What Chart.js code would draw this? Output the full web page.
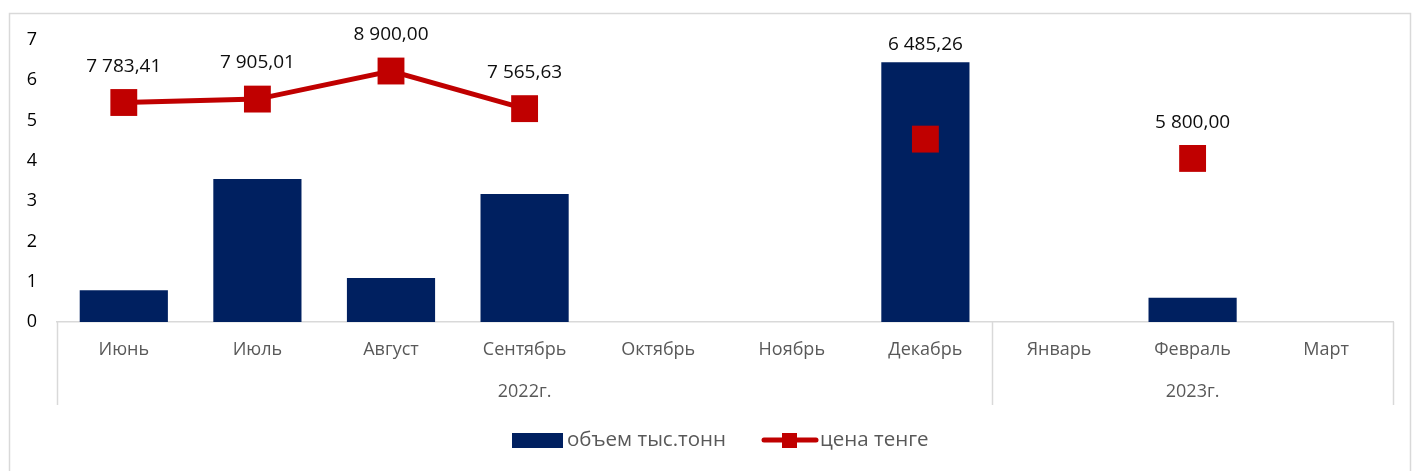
<!DOCTYPE html>
<html>
<head>
<meta charset="utf-8">
<script src="https://cdn.jsdelivr.net/npm/chart.js@4/dist/chart.umd.min.js"></script>
<style>
  html, body { margin: 0; padding: 0; background: #fff; }
  #wrap { width: 1413px; height: 471px; position: relative; }
</style>
</head>
<body>
<div id="wrap"><canvas id="chart" width="1413" height="471"></canvas></div>
<script>
// chart data
const months = ['Июнь', 'Июль', 'Август', 'Сентябрь', 'Октябрь', 'Ноябрь', 'Декабрь', 'Январь', 'Февраль', 'Март'];
const yearLabels = ['2022г.', '2023г.'];
const yearSpans = [7, 3];
const volume = [0.79, 3.55, 1.09, 3.18, 0, 0, 6.45, 0, 0.6, 0];
const price = [7783.41, 7905.01, 8900.00, 7565.63, null, null, 6485.26, null, 5800.00, null];
const volumeTicks = [0, 1, 2, 3, 4, 5, 6, 7];

const FONT = '"Open Sans", "Noto Sans", sans-serif';
const BAR_COLOR = '#002060';
const LINE_COLOR = '#c00000';

// "7 783,41" style
function fmtPrice(v) {
    const parts = v.toFixed(2).split('.');
    const whole = parts[0].replace(/\B(?=(\d{3})+(?!\d))/g, ' ');
    return whole + ',' + parts[1];
}

// outer frame
const framePlugin = {
    id: 'frame',
    beforeDraw(chart) {
        const ctx = chart.ctx;
        ctx.save();
        ctx.strokeStyle = '#d9d9d9';
        ctx.lineWidth = 1.5;
        ctx.strokeRect(9.5, 13.5, 1401, 470);
        ctx.restore();
    }
};

// price labels above markers
const labelPlugin = {
    id: 'priceLabels',
    afterDatasetsDraw(chart) {
        const ctx = chart.ctx;
        const lineMeta = chart.getDatasetMeta(1);
        const barMeta = chart.getDatasetMeta(0);
        ctx.save();
        ctx.font = '19px ' + FONT;
        ctx.fillStyle = '#0d0d0d';
        ctx.textAlign = 'center';
        ctx.textBaseline = 'middle';
        lineMeta.data.forEach((pt, i) => {
            const v = price[i];
            if (v === null) return;
            const barTop = barMeta.data[i].y;
            let y = pt.y - 36;
            if (barTop < pt.y) y = Math.min(y, barTop - 18);
            ctx.fillText(fmtPrice(v), pt.x, y);
        });
        ctx.restore();
    }
};

// second category level, group separators and legend
const groupPlugin = {
    id: 'groups',
    afterDraw(chart) {
        const ctx = chart.ctx;
        const area = chart.chartArea;
        const step = (area.right - area.left) / months.length;
        ctx.save();
        ctx.strokeStyle = '#d9d9d9';
        ctx.lineWidth = 1.5;
        let idx = 0;
        const bounds = [area.left];
        yearSpans.forEach(n => { idx += n; bounds.push(area.left + idx * step); });
        bounds.forEach(b => {
            ctx.beginPath();
            ctx.moveTo(Math.round(b) + 0.5, area.bottom);
            ctx.lineTo(Math.round(b) + 0.5, area.bottom + 83);
            ctx.stroke();
        });
        ctx.font = '18px ' + FONT;
        ctx.fillStyle = '#595959';
        ctx.textAlign = 'center';
        ctx.textBaseline = 'middle';
        yearLabels.forEach((lbl, i) => {
            ctx.fillText(lbl, (bounds[i] + bounds[i + 1]) / 2, area.bottom + 70);
        });

        // legend
        const ly = 440;
        ctx.font = '20.5px ' + FONT;
        ctx.fillStyle = BAR_COLOR;
        ctx.fillRect(512, ly - 7, 51, 15);
        ctx.fillStyle = '#595959';
        ctx.textAlign = 'left';
        ctx.fillText(chart.data.datasets[0].label, 567, ly);
        ctx.strokeStyle = LINE_COLOR;
        ctx.lineWidth = 5;
        ctx.lineCap = 'round';
        ctx.beginPath();
        ctx.moveTo(764, ly);
        ctx.lineTo(816, ly);
        ctx.stroke();
        ctx.fillStyle = LINE_COLOR;
        ctx.fillRect(782, ly - 7, 15, 15);
        ctx.fillStyle = '#595959';
        ctx.fillText(chart.data.datasets[1].label, 820, ly);
        ctx.restore();
    }
};

const ctx = document.getElementById('chart').getContext('2d');
new Chart(ctx, {
    data: {
        labels: months,
        datasets: [{
            type: 'bar',
            label: 'объем тыс.тонн',
            data: volume,
            backgroundColor: BAR_COLOR,
            yAxisID: 'y',
            categoryPercentage: 1,
            barPercentage: 0.66,
            order: 1
        }, {
            type: 'line',
            label: 'цена тенге',
            data: price,
            borderColor: LINE_COLOR,
            backgroundColor: LINE_COLOR,
            borderWidth: 5,
            pointStyle: 'rect',
            pointRadius: 19,
            pointBorderWidth: 0,
            pointBackgroundColor: LINE_COLOR,
            spanGaps: false,
            tension: 0,
            yAxisID: 'y2',
            order: 0
        }]
    },
    options: {
        responsive: false,
        animation: false,
        layout: { padding: { left: 10, right: 20, top: 40, bottom: 66 } },
        plugins: {
            legend: { display: false },
            tooltip: { enabled: false }
        },
        scales: {
            x: {
                grid: { display: false, drawTicks: false },
                border: { display: true, color: '#d9d9d9', width: 1.5 },
                ticks: {
                    color: '#595959',
                    font: { family: FONT, size: 18 },
                    padding: 17,
                    maxRotation: 0,
                    autoSkip: false
                },
                afterFit(scale) { scale.height = 83; }
            },
            y: {
                position: 'left',
                min: volumeTicks[0],
                max: volumeTicks[volumeTicks.length - 1],
                afterBuildTicks(scale) { scale.ticks = volumeTicks.map(v => ({ value: v })); },
                grid: { display: false, drawTicks: false },
                border: { display: false },
                ticks: {
                    color: '#000',
                    font: { family: FONT, size: 18 },
                    padding: 20
                },
                afterFit(scale) { scale.width = 47; }
            },
            y2: {
                display: false,
                min: 0,
                max: 10000
            }
        }
    },
    plugins: [framePlugin, labelPlugin, groupPlugin]
});
</script>
</body>
</html>
